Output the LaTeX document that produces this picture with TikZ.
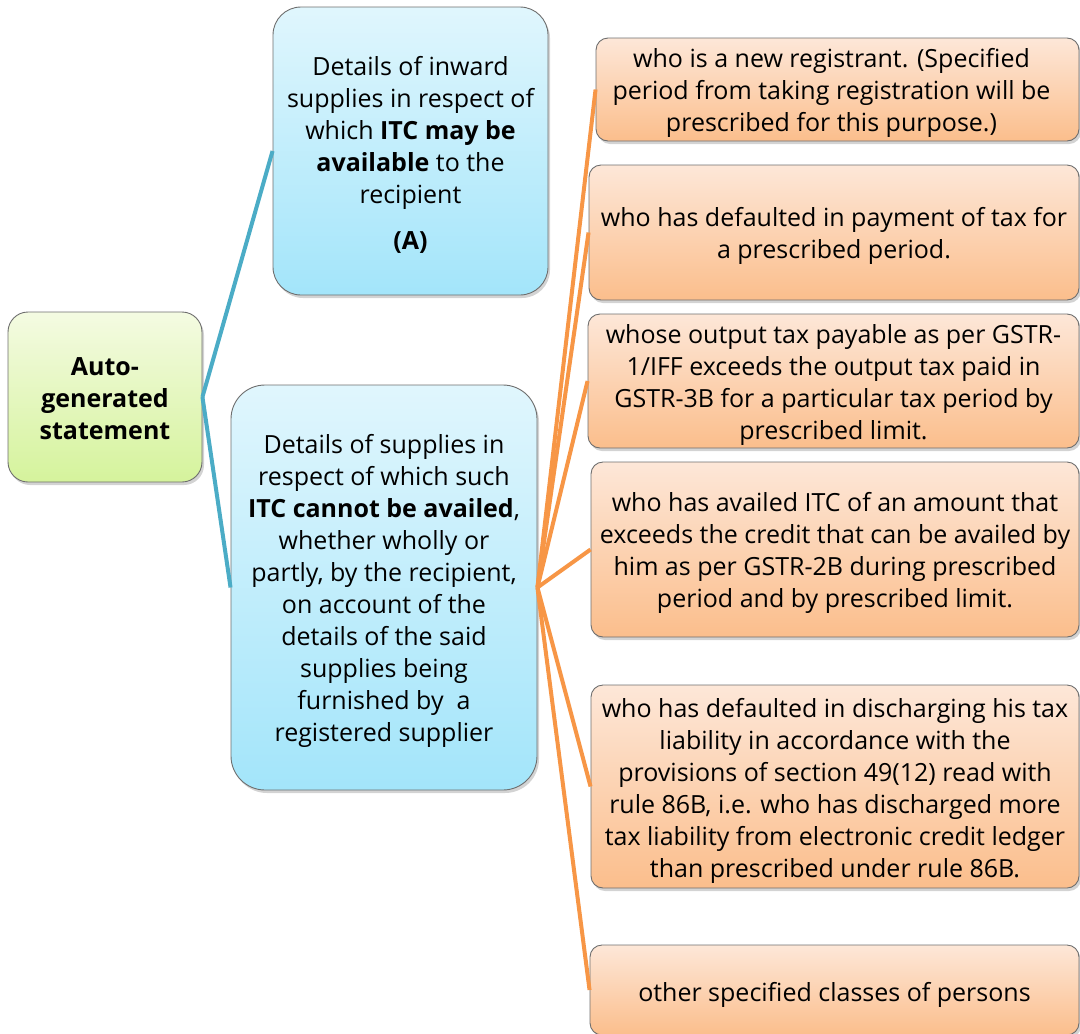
\documentclass[tikz,border=0pt]{standalone}
\usepackage{fontspec}
\setmainfont{Open Sans}
\usetikzlibrary{shadows}
\definecolor{blueTop}{HTML}{E0F6FD}
\definecolor{blueBot}{HTML}{A3E5FA}
\definecolor{orTop}{HTML}{FDE7D8}
\definecolor{orBot}{HTML}{FBBE8C}
\definecolor{grTop}{HTML}{F4FBE2}
\definecolor{grBot}{HTML}{D5F39C}
\definecolor{edge}{HTML}{6E6E6E}
\definecolor{teal}{HTML}{4BACC6}
\definecolor{orline}{HTML}{F79646}
\begin{document}
\begin{tikzpicture}[x=1pt,y=-1pt,
  box/.style={draw=edge, line width=0.9pt, inner sep=0pt,
    drop shadow={opacity=0.35, shadow xshift=2pt, shadow yshift=-3pt}},
  txt/.style={align=center, inner sep=0pt, font=\fontsize{25}{32}\selectfont},
  bluebox/.style={box, top color=blueTop, bottom color=blueBot},
  orbox/.style={box, top color=orTop, bottom color=orBot, rounded corners=12pt},
  grbox/.style={box, top color=grTop, bottom color=grBot, rounded corners=20pt},
  tline/.style={draw=teal, line width=4pt},
  oline/.style={draw=orline, line width=4pt}
]
\useasboundingbox (0,0) rectangle (1080,1034);

% boxes
\node[grbox, minimum width=194pt, minimum height=170pt] (auto) at (105,397) {};
\node[bluebox, rounded corners=28pt, minimum width=275pt, minimum height=288pt] (A) at (410.5,151) {};
\node[bluebox, rounded corners=34pt, minimum width=306pt, minimum height=405pt] (B) at (384,587.5) {};
\node[orbox, minimum width=483pt, minimum height=103pt] (o1) at (837.5,89.5) {};
\node[orbox, minimum width=490pt, minimum height=135pt] (o2) at (834,232.5) {};
\node[orbox, minimum width=491pt, minimum height=134pt] (o3) at (833.5,381) {};
\node[orbox, minimum width=488pt, minimum height=175pt] (o4) at (835,549.5) {};
\node[orbox, minimum width=488pt, minimum height=203pt] (o5) at (835,786.5) {};
\node[orbox, minimum width=489pt, minimum height=90pt] (o6) at (834.5,990) {};

% connectors
\draw[tline] (auto.east) -- (A.west);
\draw[tline] (auto.east) -- (B.west);
\foreach \t in {o1,o2,o3,o4,o5,o6} {
  \draw[oline] (B.east) -- (\t.west);
}

% texts
\node[txt] (autot) at ([yshift=-2pt]auto.center)
  {\textbf{Auto-}\\\textbf{generated}\\\textbf{statement}};
\node[txt] (At) at ([yshift=-4pt]A.center)
  {Details of inward\\supplies in respect of\\which \textbf{ITC may be}\\\textbf{available} to the\\recipient\\[14pt]\textbf{(A)}};
\node[txt] (Bt) at ([yshift=-3pt]B.center)
  {Details of supplies in\\respect of which such\\\textbf{ITC cannot be availed},\\whether wholly or\\partly, by the recipient,\\on account of the\\details of the said\\supplies being\\furnished by\ \ a\\registered supplier};
\node[txt] (o1t) at ([yshift=-3pt,xshift=-6pt]o1.center)
  {who is a new registrant. (Specified\\period from taking registration will be\\prescribed for this purpose.)};
\node[txt] (o2t) at ([yshift=-3pt]o2.center)
  {who has defaulted in payment of tax for\\a prescribed period.};
\node[txt] (o3t) at ([yshift=-4pt]o3.center)
  {whose output tax payable as per GSTR-\\1/IFF exceeds the output tax paid in\\GSTR-3B for a particular tax period by\\prescribed limit.};
\node[txt] (o4t) at ([yshift=-3pt]o4.center)
  {who has availed ITC of an amount that\\exceeds the credit that can be availed by\\him as per GSTR-2B during prescribed\\period and by prescribed limit.};
\node[txt] (o5t) at ([yshift=-4pt]o5.center)
  {who has defaulted in discharging his tax\\liability in accordance with the\\provisions of section 49(12) read with\\rule 86B, i.e. who has discharged more\\tax liability from electronic credit ledger\\than prescribed under rule 86B.};
\node[txt] (o6t) at ([yshift=-5pt]o6.center)
  {other specified classes of persons};
\end{tikzpicture}
\end{document}
